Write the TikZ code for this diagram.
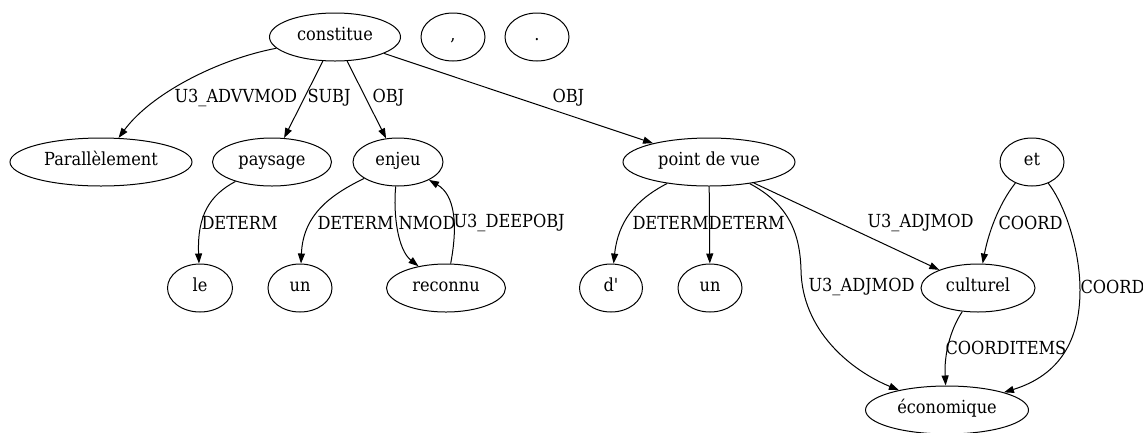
\documentclass[tikz,border=0pt]{standalone}
\usepackage{fontspec}
\IfFontExistsTF{DejaVu Serif Condensed}{\setmainfont{DejaVu Serif Condensed}}{\setmainfont{DejaVu Serif}[FakeStretch=0.9]}
\usetikzlibrary{shapes.geometric, arrows.meta}

\begin{document}
\begin{tikzpicture}[x=1pt, y=-1pt, line width=1pt,
    word/.style={ellipse, draw, inner sep=0pt, minimum height=48pt, text height=0.83em, text depth=0.2em, font=\fontsize{18}{21}\selectfont},
    rel/.style={anchor=west, inner sep=0pt, font=\fontsize{18}{21}\selectfont},
    dep/.style={-{Triangle[length=10pt, width=7pt]}}]
    \useasboundingbox (0,0) rectangle (1143,432);

    \def\rowA{37}
    \def\rowB{162}
    \def\rowC{288}
    \def\rowD{410}

    % tokens
    \node[word, minimum width=131pt] (constitue) at (335,\rowA) {constitue};
    \node[word, minimum width=64pt] (comma) at (453,\rowA) {,};
    \node[word, minimum width=64pt] (period) at (537,\rowA) {.};

    \node[word, minimum width=182pt] (parall) at (101,\rowB) {Parallèlement};
    \node[word, minimum width=119pt] (paysage) at (272,\rowB) {paysage};
    \node[word, minimum width=90pt] (enjeu) at (398,\rowB) {enjeu};
    \node[word, minimum width=172pt] (pdv) at (709,\rowB) {point de vue};
    \node[word, minimum width=64pt] (et) at (1032,\rowB) {et};

    \node[word, minimum width=65pt] (le) at (200,\rowC) {le};
    \node[word, minimum width=64pt] (unA) at (300,\rowC) {un};
    \node[word, minimum width=119pt] (reconnu) at (446,\rowC) {reconnu};
    \node[word, minimum width=63pt] (d) at (611,\rowC) {d\textquotesingle};
    \node[word, minimum width=64pt] (unB) at (710,\rowC) {un};
    \node[word, minimum width=114pt] (culturel) at (978,\rowC) {culturel};

    \node[word, minimum width=163pt] (economique) at (947,\rowD) {économique};

    % dependencies of constitue
    \draw[dep] (constitue) .. controls (215,60) and (150,95) .. (parall);
    \draw[dep] (constitue) -- (paysage);
    \draw[dep] (constitue) -- (enjeu);
    \draw[dep] (constitue) -- (pdv);
    \node[rel] (lAdv) at (174,98) {U3\_ADVVMOD};
    \node[rel] (lSubj) at (307,98) {SUBJ};
    \node[rel] (lObjA) at (372,98) {OBJ};
    \node[rel] (lObjB) at (552,98) {OBJ};

    % paysage, enjeu
    \draw[dep] (paysage) .. controls (210,195) and (197,215) .. (le);
    \draw[dep] (enjeu) .. controls (330,195) and (303,215) .. (unA);
    \draw[dep] (enjeu) .. controls (393,215) and (398,250) .. (reconnu);
    \draw[dep] (reconnu) .. controls (458,225) and (455,195) .. (enjeu);
    \node[rel] (lDetA) at (201,223) {DETERM};
    \node[rel] (lDetB) at (317,223) {DETERM};
    \node[rel] (lNmod) at (398,223) {NMOD};
    \node[rel] (lDeep) at (453,223) {U3\_DEEPOBJ};

    % point de vue
    \draw[dep] (pdv) .. controls (635,200) and (618,222) .. (d);
    \draw[dep] (pdv) -- (unB);
    \draw[dep] (pdv) -- (culturel);
    \draw[dep] (pdv) .. controls (790,205) and (800,235) .. (801,270)
        .. controls (802,330) and (850,370) .. (economique);
    \node[rel] (lDetC) at (632,223) {DETERM};
    \node[rel] (lDetD) at (708,223) {DETERM};
    \node[rel] (lAdjA) at (867,223) {U3\_ADJMOD};
    \node[rel] (lAdjB) at (808,287) {U3\_ADJMOD};

    % coordination
    \draw[dep] (et) .. controls (998,205) and (988,235) .. (culturel);
    \draw[dep] (et) .. controls (1065,205) and (1080,250) .. (1080,290)
        .. controls (1080,340) and (1060,375) .. (economique);
    \draw[dep] (culturel) .. controls (950,330) and (944,355) .. (economique);
    \node[rel] (lCoordA) at (998,223) {COORD};
    \node[rel] (lCoordB) at (1080,287) {COORD};
    \node[rel] (lItems) at (945,348) {COORDITEMS};
\end{tikzpicture}
\end{document}
